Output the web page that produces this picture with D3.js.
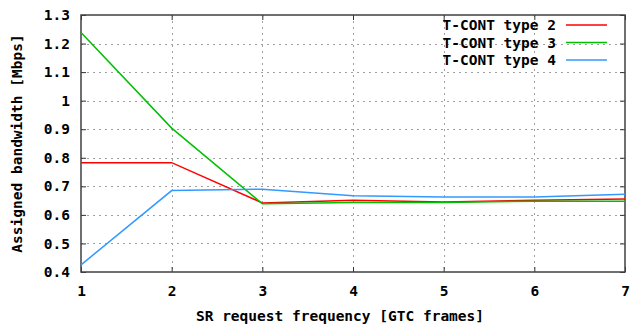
<!DOCTYPE html>
<html><head><meta charset="utf-8">
<script src="https://cdn.jsdelivr.net/npm/d3@7"></script>
<style>
html,body{margin:0;padding:0;background:#fff;}
text{font-family:"DejaVu Sans Mono",monospace;font-weight:bold;fill:#000;}
</style></head>
<body><svg id="c" width="631" height="327"></svg>
<script>
const xValues = [1, 2, 3, 4, 5, 6, 7];
const type2 = [0.783, 0.783, 0.642, 0.651, 0.645, 0.651, 0.656];
const type3 = [1.239, 0.904, 0.639, 0.643, 0.643, 0.648, 0.648];
const type4 = [0.425, 0.685, 0.690, 0.667, 0.663, 0.663, 0.672];
const seriesNames = ["T-CONT type 2", "T-CONT type 3", "T-CONT type 4"];
const seriesColors = ["#ff0000", "#00c000", "#3399ff"];
const xTicks = [1, 2, 3, 4, 5, 6, 7];
const yTicks = [0.4, 0.5, 0.6, 0.7, 0.8, 0.9, 1.0, 1.1, 1.2, 1.3];
const xLabel = "SR request frequency [GTC frames]";
const yLabel = "Assigned bandwidth [Mbps]";

const L = 81, R = 625, T = 15, B = 272;
const svg = d3.select("#c");
const x = d3.scaleLinear().domain([1, 7]).range([L, R]);
const y = d3.scaleLinear().domain([0.4, 1.3]).range([B, T]);
const fmt = v => (Math.abs(v - 1) < 1e-9 ? "1" : d3.format(".1f")(v));

// grid
const grid = svg.append("g").attr("stroke", "#a0a0a0").attr("stroke-width", 1).attr("stroke-dasharray", "2,4");
grid.selectAll(".gy").data(yTicks.slice(1, -1)).join("line")
  .attr("x1", L).attr("x2", R).attr("y1", d => Math.round(y(d)) + 0.5).attr("y2", d => Math.round(y(d)) + 0.5);
grid.selectAll(".gx").data(xTicks.slice(1, -1)).join("line")
  .attr("y1", T).attr("y2", B).attr("x1", d => Math.round(x(d)) + 0.5).attr("x2", d => Math.round(x(d)) + 0.5);

// axes with inward ticks
const fontSize = "14.5px";
const ax = svg.append("g").attr("transform", `translate(0,${B})`)
  .call(d3.axisBottom(x).tickValues(xTicks).tickFormat(d3.format("d")).tickSizeInner(-5).tickSizeOuter(0).tickPadding(14));
const ay = svg.append("g").attr("transform", `translate(${L},0)`)
  .call(d3.axisLeft(y).tickValues(yTicks).tickFormat(fmt).tickSizeInner(-5).tickSizeOuter(0).tickPadding(11));
const at = svg.append("g").attr("transform", `translate(0,${T})`)
  .call(d3.axisTop(x).tickValues(xTicks).tickFormat("").tickSizeInner(-5).tickSizeOuter(0));
const ar = svg.append("g").attr("transform", `translate(${R},0)`)
  .call(d3.axisRight(y).tickValues(yTicks).tickFormat("").tickSizeInner(-5).tickSizeOuter(0));
[ax, ay, at, ar].forEach(g => {
  g.select(".domain").remove();
  g.selectAll("line").attr("stroke", "#333").attr("stroke-width", 1);
  g.selectAll("text").style("font-size", fontSize).style("font-family", "DejaVu Sans Mono").style("font-weight", "bold").attr("fill", "#000");
});

// border
svg.append("rect").attr("x", L).attr("y", T).attr("width", R - L).attr("height", B - T)
  .attr("fill", "none").attr("stroke", "#404040").attr("stroke-width", 1.5);

// lines
const line = d3.line().x((d, i) => x(xValues[i])).y(d => y(d));
[type2, type3, type4].forEach((s, k) => {
  svg.append("path").datum(s).attr("d", line).attr("fill", "none")
    .attr("stroke", seriesColors[k]).attr("stroke-width", 1.5);
});

// legend
const lg = svg.append("g");
seriesNames.forEach((n, k) => {
  const cy = 25 + k * 17.5;
  lg.append("text").attr("x", 556).attr("y", cy + 5).attr("text-anchor", "end")
    .style("font-size", fontSize).text(n);
  lg.append("line").attr("x1", 566).attr("x2", 607).attr("y1", cy).attr("y2", cy)
    .attr("stroke", seriesColors[k]).attr("stroke-width", 1.5);
});

// axis labels
svg.append("text").attr("x", (L + R) / 2 - 13).attr("y", 321).attr("text-anchor", "middle")
  .style("font-size", fontSize).text(xLabel);
svg.append("text").attr("transform", `translate(22,${(T + B) / 2}) rotate(-90)`).attr("text-anchor", "middle")
  .style("font-size", fontSize).text(yLabel);
</script></body></html>
